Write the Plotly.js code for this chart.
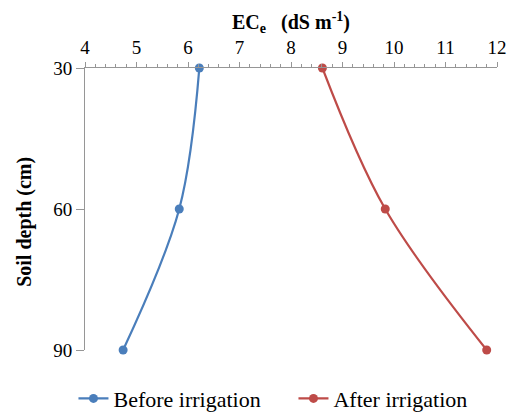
<!DOCTYPE html>
<html>
<head>
<meta charset="utf-8">
<script src="https://cdn.plot.ly/plotly-3.0.1.min.js"></script>
<style>html,body{margin:0;padding:0;background:#fff;}#chart{width:511px;height:415px;}</style>
</head>
<body>
<div id="chart"></div>
<script>
var depths = [30, 60, 90];
var beforeIrrigation = [6.22, 5.83, 4.74];
var afterIrrigation = [8.61, 9.83, 11.8];
var seriesNames = ["Before irrigation", "After irrigation"];

var traces = [
  {x: beforeIrrigation, y: depths, name: seriesNames[0], mode: "lines+markers", cliponaxis: false,
   legend: "legend",
   line: {color: "#4A7EBB", width: 2.2, shape: "spline", smoothing: 1},
   marker: {color: "#4A7EBB", size: 9}},
  {x: afterIrrigation, y: depths, name: seriesNames[1], mode: "lines+markers", cliponaxis: false,
   legend: "legend2",
   line: {color: "#BE4B48", width: 2.2, shape: "spline", smoothing: 1},
   marker: {color: "#BE4B48", size: 9}}
];

var legendFont = {family: "Liberation Serif, serif", size: 22, color: "#000"};

var layout = {
  width: 511, height: 415,
  margin: {l: 85, r: 14, t: 68, b: 65, autoexpand: false},
  paper_bgcolor: "#fff", plot_bgcolor: "#fff",
  font: {family: "Liberation Serif, Times New Roman, serif", color: "#000", size: 16},
  showlegend: true,
  legend: {orientation: "h", y: -0.098, yanchor: "top", x: -0.028, xanchor: "left",
           font: legendFont, itemwidth: 30},
  legend2: {orientation: "h", y: -0.098, yanchor: "top", x: 0.506, xanchor: "left",
           font: legendFont, itemwidth: 30},
  xaxis: {
    side: "top", range: [4, 12], dtick: 1, tick0: 4,
    showgrid: false, zeroline: false, showline: true, linecolor: "#969696", linewidth: 1,
    ticks: "outside", ticklen: 5, tickcolor: "#969696",
    minor: {dtick: 0.2, ticks: "outside", ticklen: 3, tickcolor: "#969696", showgrid: false},
    tickfont: {family: "Liberation Serif, serif", size: 19, color: "#000"},
    title: {text: "<b>EC<sub>e</sub>\u00a0\u00a0\u00a0(dS m<sup>-1</sup>)</b>", standoff: 2,
            font: {family: "Liberation Serif, serif", size: 20, color: "#000"}}
  },
  yaxis: {
    range: [90, 30], tickvals: [30, 60, 90],
    showgrid: false, zeroline: false, showline: true, linecolor: "#969696", linewidth: 1,
    ticks: "outside", ticklen: 8, tickcolor: "#969696",
    tickfont: {family: "Liberation Serif, serif", size: 19, color: "#000"}
  },
  annotations: [{
    text: "<b>Soil depth (cm)</b>", textangle: -90, showarrow: false,
    xref: "paper", yref: "paper", x: -0.146, y: 0.454, xanchor: "center", yanchor: "middle",
    font: {family: "Liberation Serif, serif", size: 20, color: "#000"}
  }]
};

Plotly.newPlot("chart", traces, layout, {displayModeBar: false, staticPlot: true});
</script>
</body>
</html>
